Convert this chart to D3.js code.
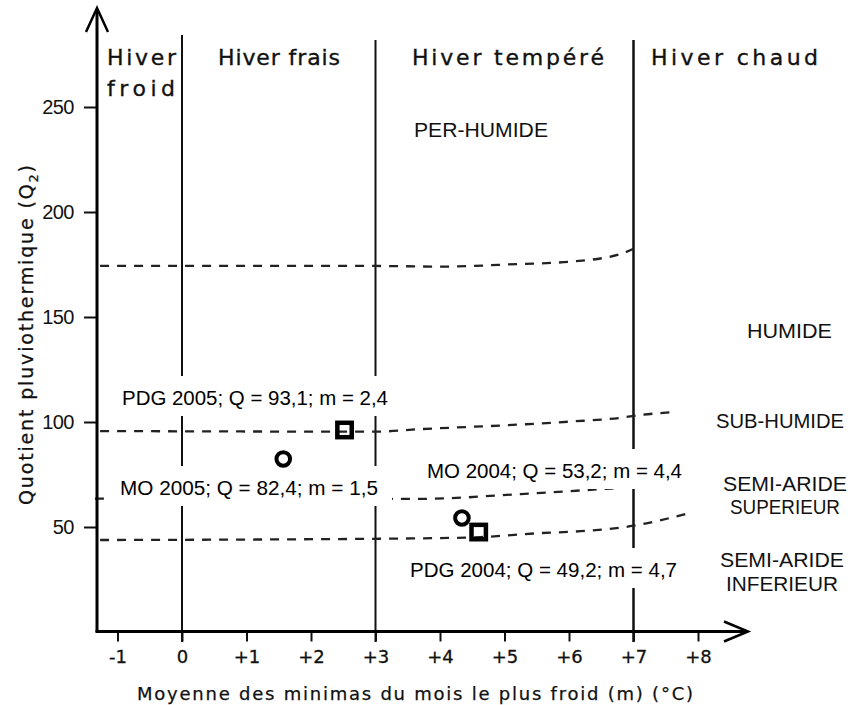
<!DOCTYPE html>
<html><head><meta charset="utf-8">
<script src="https://cdn.jsdelivr.net/npm/d3@7"></script>
<style>
html,body{margin:0;padding:0;background:#fff;}
svg{display:block;}
</style></head>
<body>
<script>
// ---------- data ----------
const xTicks = [-1, 0, 1, 2, 3, 4, 5, 6, 7, 8];
const yTicks = [50, 100, 150, 200, 250];
const winterBounds = [0, 3, 7];
const winterNames = [["Hiver", "froid"], ["Hiver frais"], ["Hiver tempéré"], ["Hiver chaud"]];
const zoneNames = [["PER-HUMIDE"], ["HUMIDE"], ["SUB-HUMIDE"], ["SEMI-ARIDE", "SUPERIEUR"], ["SEMI-ARIDE", "INFERIEUR"]];
// zone boundaries as [m, Q] points
const bPerHumide = [[-1.27,174.3],[3,174.3],[4,174.0],[5.2,175.2],[6,176.3],[6.8,180],[7,182.5]];
const bHumide    = [[-1.27,95.7],[3,95.4],[3.7,96.6],[5.25,98.8],[6.02,100.2],[6.8,102],[7.1,103.3],[7.66,104.8]];
const bSubHumide = [[-1.35,63.5],[3.2,63.4],[3.7,63.4],[5.25,65.7],[6.02,67.1],[6.8,68.6]];
const bSemiAride = [[-1.27,43.8],[3.7,44.6],[4.63,45.2],[5.56,47.1],[6.18,48.0],[7,50.6],[7.81,56.2]];
const stations = ["PDG 2005", "MO 2005", "MO 2004", "PDG 2004"];
const mPlot = [2.52, 1.57, 4.34, 4.60];
const qPlot = [96.2, 82.4, 54.3, 47.6];
const shapes = ["square", "circle", "circle", "square"];
const stationLabels = ["PDG 2005; Q = 93,1; m = 2,4", "MO 2005; Q = 82,4; m = 1,5",
                       "MO 2004; Q = 53,2; m = 4,4", "PDG 2004; Q = 49,2; m = 4,7"];
const yTitle = "Quotient pluviothermique (Q";
const xTitle = "Moyenne des minimas du mois le plus froid (m) (°C)";

// ---------- layout ----------
const W = 854, H = 705;
const svg = d3.select("body").append("svg").attr("width", W).attr("height", H);
const x = d3.scaleLinear().domain([0, 7]).range([182, 633.5]);
const y = d3.scaleLinear().domain([0, 250]).range([632, 107]);
const gothic = "'DejaVu Sans', Verdana, sans-serif";
const narrow = "'Liberation Sans Narrow', 'Liberation Sans', Arial, sans-serif";
const arial = "'Liberation Sans', Arial, sans-serif";

// vertical winter boundaries
const vTop = [35, 40, 40];
svg.selectAll("line.vb").data(winterBounds).enter().append("line")
  .attr("x1", d => x(d)).attr("x2", d => x(d))
  .attr("y1", (d, i) => vTop[i]).attr("y2", y(0) + 10)
  .attr("stroke", "#111").attr("stroke-width", (d, i) => i === 2 ? 2.5 : 2);

// dashed zone boundaries
const line = d3.line().x(d => x(d[0])).y(d => y(d[1])).curve(d3.curveMonotoneX);
[bPerHumide, bHumide, bSubHumide, bSemiAride].forEach(b => {
  svg.append("path").attr("d", line(b)).attr("fill", "none")
    .attr("stroke", "#222").attr("stroke-width", 2.3).attr("stroke-dasharray", "9,8");
});

// axes
const gy = svg.append("g").attr("transform", `translate(97,0)`)
  .call(d3.axisLeft(y).tickValues(yTicks).tickSize(13).tickPadding(10).tickSizeOuter(0));
gy.select(".domain").remove();
gy.selectAll(".tick line").attr("stroke", "#111").attr("stroke-width", 2);
gy.selectAll(".tick text").attr("font-family", narrow).attr("font-size", 20).attr("fill", "#111")
  .attr("letter-spacing", -0.5);

const gx = svg.append("g").attr("transform", `translate(0,${y(0) - 0.5})`)
  .call(d3.axisBottom(x).tickValues(xTicks).tickSize(10).tickPadding(9).tickSizeOuter(0)
    .tickFormat(d => d > 0 ? "+" + d : String(d)));
gx.select(".domain").remove();
gx.selectAll(".tick line").attr("stroke", "#111").attr("stroke-width", 2);
gx.selectAll(".tick text").attr("font-family", gothic).attr("font-size", 18).attr("fill", "#111")
  .attr("stroke", "#111").attr("stroke-width", 0.3);

// axis lines with arrows
svg.append("line").attr("x1", 97).attr("x2", 97).attr("y1", y(0)).attr("y2", 9)
  .attr("stroke", "#000").attr("stroke-width", 3);
svg.append("path").attr("d", "M86,32 L97,8 L108,32").attr("fill", "none")
  .attr("stroke", "#000").attr("stroke-width", 2.5);
svg.append("line").attr("x1", 95.5).attr("x2", 747).attr("y1", y(0) - 0.5).attr("y2", y(0) - 0.5)
  .attr("stroke", "#000").attr("stroke-width", 3);
svg.append("path").attr("d", `M724,${y(0) - 10.5} L748,${y(0) - 0.5} L724,${y(0) + 9.5}`).attr("fill", "none")
  .attr("stroke", "#000").attr("stroke-width", 2.5);

// winter header labels (multi-line labels as one text with tspans)
const headerPos = [{x: 107, w: [69, 68]}, {x: 218, w: [122]}, {x: 412, w: [192]}, {x: 651, w: [167]}];
winterNames.forEach((lines, i) => {
  const t = svg.append("text").attr("font-family", gothic).attr("font-size", 22).attr("fill", "#111")
    .attr("stroke", "#111").attr("stroke-width", 0.35);
  lines.forEach((s, j) => {
    t.append("tspan").attr("x", headerPos[i].x).attr("y", 65 + j * 31)
      .attr("textLength", headerPos[i].w[j]).attr("lengthAdjust", "spacing").text(s);
  });
});

// zone labels
const zonePos = [
  {cx: 481, y: [137], w: [134]},
  {cx: 789.5, y: [338], w: [85]},
  {cx: 780, y: [428], w: [128]},
  {cx: 785, y: [491, 514], w: [124, 110]},
  {cx: 782, y: [567, 591], w: [124, 112]}
];
zoneNames.forEach((lines, i) => {
  const t = svg.append("text").attr("text-anchor", "middle").attr("font-family", narrow)
    .attr("font-size", 20).attr("fill", "#111");
  lines.forEach((s, j) => {
    t.append("tspan").attr("x", zonePos[i].cx).attr("y", zonePos[i].y[j])
      .attr("textLength", zonePos[i].w[j]).attr("lengthAdjust", "spacingAndGlyphs").text(s);
  });
});

// station labels with white boxes
const labelPos = [{x: 122, y: 405, w: 266}, {x: 120, y: 495, w: 258}, {x: 427, y: 478, w: 255}, {x: 410, y: 577, w: 267}];
stationLabels.forEach((t, i) => {
  const p = labelPos[i];
  svg.append("rect").attr("x", p.x - 14).attr("y", p.y - 29).attr("width", p.w + 28).attr("height", 40)
    .attr("fill", "#fff");
  svg.append("text").attr("x", p.x).attr("y", p.y).attr("font-family", arial).attr("font-size", 20.5)
    .attr("fill", "#000").attr("textLength", p.w).attr("lengthAdjust", "spacingAndGlyphs").text(t);
});

// station markers
stations.forEach((s, i) => {
  const cx = x(mPlot[i]), cy = y(qPlot[i]);
  if (shapes[i] === "circle") {
    svg.append("circle").attr("cx", cx).attr("cy", cy).attr("r", 6.8)
      .attr("fill", "none").attr("stroke", "#000").attr("stroke-width", 4);
  } else {
    svg.append("rect").attr("x", cx - 7.2).attr("y", cy - 7.2).attr("width", 14.4).attr("height", 14.4)
      .attr("fill", "none").attr("stroke", "#000").attr("stroke-width", 4.5);
  }
});

// axis titles
const yt = svg.append("text").attr("transform", "translate(33,335) rotate(-90)")
  .attr("text-anchor", "middle").attr("font-family", gothic).attr("font-size", 19).attr("fill", "#111")
  .attr("stroke", "#111").attr("stroke-width", 0.25)
  .attr("textLength", 340).attr("lengthAdjust", "spacing");
yt.append("tspan").text(yTitle);
yt.append("tspan").attr("font-size", 13).attr("dy", 5).text("2");
yt.append("tspan").attr("dy", -5).text(")");

svg.append("text").attr("x", 415).attr("y", 700).attr("text-anchor", "middle")
  .attr("font-family", gothic).attr("font-size", 18).attr("fill", "#111")
  .attr("stroke", "#111").attr("stroke-width", 0.25)
  .attr("textLength", 556).attr("lengthAdjust", "spacing").text(xTitle);
</script>
</body></html>
